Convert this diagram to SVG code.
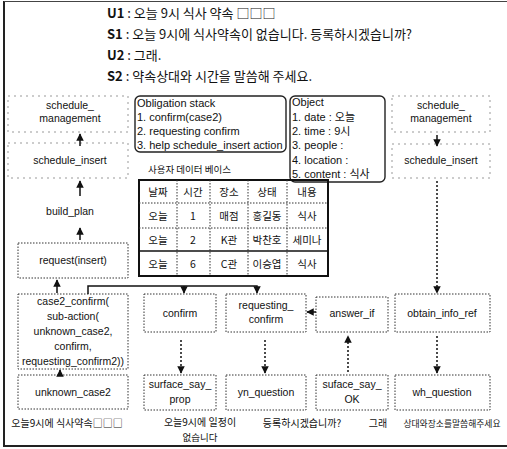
<svg xmlns="http://www.w3.org/2000/svg" width="507" height="449" viewBox="0 0 507 449">
<defs>
<style>
text{font-family:"Liberation Sans","Noto Sans CJK KR",sans-serif;font-size:10.5px;fill:#111}
.k{font-family:"Noto Sans CJK KR","Liberation Sans",sans-serif}
.dl{font-size:13px}
.b{font-weight:bold}
.lb{font-size:11px}
.u{font-size:10px}
.m{text-anchor:middle}
.lite{fill:none;stroke:#999;stroke-width:1;stroke-dasharray:2 4}
.dot{fill:none;stroke:#333;stroke-width:1;stroke-dasharray:1.5 1.5}
.rnd{fill:none;stroke:#222;stroke-width:1.4}
.sl{fill:none;stroke:#111;stroke-width:1.5}
.dv{fill:none;stroke:#111;stroke-width:1.5;stroke-dasharray:2 2}
.tb{fill:none;stroke:#111;stroke-width:2}
.tg{fill:none;stroke:#333;stroke-width:1;stroke-dasharray:1.5 1.5}
</style>
<marker id="ah" viewBox="0 0 10 10" refX="9" refY="5" markerWidth="5" markerHeight="5" orient="auto">
<path d="M0,0 L10,5 L0,10 z" fill="#111"/>
</marker>
</defs>
<rect width="507" height="449" fill="#fff"/>
<g id="frame">
<line x1="4" y1="1" x2="4" y2="447" stroke="#222" stroke-width="2"/>
<line x1="4" y1="1.5" x2="507" y2="1.5" stroke="#444" stroke-width="1.2"/>
<line x1="4" y1="446" x2="507" y2="446" stroke="#222" stroke-width="2"/>
</g>
<g id="dialogue">
<text class="k dl" x="107" y="18"><tspan class="b">U1</tspan> : 오늘 9시 식사 약속 □□□</text>
<text class="k dl" x="107" y="39"><tspan class="b">S1</tspan> : 오늘 9시에 식사약속이 없습니다. 등록하시겠습니까?</text>
<text class="k dl" x="107" y="60"><tspan class="b">U2</tspan> : 그래.</text>
<text class="k dl" x="107" y="81"><tspan class="b">S2</tspan> : 약속상대와 시간을 말씀해 주세요.</text>
</g>
<g id="schedule_management_l"><rect class="lite" x="8" y="96" width="120" height="36"/><text class="m" x="70" y="109">schedule_</text><text class="m" x="70" y="122">management</text></g>
<g id="schedule_insert_l"><rect class="lite" x="8" y="143" width="120" height="35"/><text class="m" x="70" y="164">schedule_insert</text></g>
<g id="build_plan"><text class="m" x="70" y="215">build_plan</text></g>
<g id="request_insert"><rect class="dot" x="18" y="243" width="110" height="35"/><text class="m" x="73" y="264">request(insert)</text></g>
<g id="case2_confirm"><rect class="dot" x="18" y="294" width="110" height="75"/>
<text class="m" x="73" y="305">case2_confirm(</text><text class="m" x="73" y="320">sub-action(</text><text class="m" x="73" y="335">unknown_case2,</text><text class="m" x="73" y="350">confirm,</text><text class="m" x="73" y="365">requesting_confirm2))</text></g>
<g id="unknown_case2"><rect class="dot" x="18" y="375" width="110" height="34"/><text class="m" x="73" y="396">unknown_case2</text></g>
<g id="obligation"><rect class="rnd" x="135" y="96" width="151" height="56" rx="5"/>
<text class="lb" x="137" y="107">Obligation stack</text><text class="lb" x="137" y="121">1. confirm(case2)</text><text class="lb" x="137" y="135">2. requesting confirm</text><text class="lb" x="137" y="149">3. help schedule_insert action</text></g>
<g id="object"><rect class="rnd" x="290" y="96" width="95" height="86" rx="5"/>
<text class="lb" x="292" y="106">Object</text><text class="lb" x="292" y="121">1. date : 오늘</text><text class="lb" x="292" y="135">2. time : 9시</text><text class="lb" x="292" y="149">3. people :</text><text class="lb" x="292" y="164">4. location :</text><text class="lb" x="292" y="178">5. content : 식사</text></g>
<g id="schedule_management_r"><rect class="lite" x="392" y="96" width="98" height="36"/><text class="m" x="441" y="109">schedule_</text><text class="m" x="441" y="122">management</text></g>
<g id="schedule_insert_r"><rect class="lite" x="392" y="144" width="98" height="34"/><text class="m" x="441" y="164">schedule_insert</text></g>
<g id="database">
<text class="k" x="148" y="173" style="font-size:9.5px">사용자 데이터 베이스</text>
<rect class="tb" x="139" y="180" width="189" height="96"/>
<g class="tg"><line x1="139" y1="203" x2="328" y2="203"/><line x1="139" y1="228" x2="328" y2="228"/><line x1="177" y1="180" x2="177" y2="276"/><line x1="210" y1="180" x2="210" y2="276"/><line x1="248" y1="180" x2="248" y2="276"/><line x1="287" y1="180" x2="287" y2="276"/></g>
<line x1="139" y1="251" x2="328" y2="251" stroke="#111" stroke-width="1.6"/>
<g>
<text class="m k" x="158" y="196">날짜</text><text class="m k" x="193" y="196">시간</text><text class="m k" x="229" y="196">장소</text><text class="m k" x="267" y="196">상태</text><text class="m k" x="307" y="196">내용</text>
<text class="m k" x="158" y="220">오늘</text><text class="m k" x="193" y="220">1</text><text class="m k" x="229" y="220">매점</text><text class="m k" x="267" y="220">홍길동</text><text class="m k" x="307" y="220">식사</text>
<text class="m k" x="158" y="244">오늘</text><text class="m k" x="193" y="244">2</text><text class="m k" x="229" y="244">K관</text><text class="m k" x="267" y="244">박찬호</text><text class="m k" x="307" y="244">세미나</text>
<text class="m k" x="158" y="268">오늘</text><text class="m k" x="193" y="268">6</text><text class="m k" x="229" y="268">C관</text><text class="m k" x="267" y="268">이승엽</text><text class="m k" x="307" y="268">식사</text>
</g>
</g>
<g id="confirm"><rect class="dot" x="144" y="294" width="72" height="38"/><text class="m" x="180" y="317">confirm</text></g>
<g id="surface_say_prop"><rect class="dot" x="144" y="375" width="72" height="35"/><text class="m" x="180" y="388">surface_say_</text><text class="m" x="180" y="403">prop</text></g>
<g id="requesting_confirm"><rect class="dot" x="226" y="294" width="80" height="38"/><text class="m" x="266" y="309">requesting_</text><text class="m" x="266" y="323">confirm</text></g>
<g id="yn_question"><rect class="dot" x="226" y="375" width="80" height="35"/><text class="m" x="266" y="396">yn_question</text></g>
<g id="answer_if"><rect class="dot" x="316" y="297" width="72" height="35"/><text class="m" x="352" y="317">answer_if</text></g>
<g id="suface_say_OK"><rect class="dot" x="316" y="375" width="72" height="35"/><text class="m" x="352" y="388">suface_say_</text><text class="m" x="352" y="403">OK</text></g>
<g id="obtain_info_ref"><rect class="dot" x="395" y="294" width="95" height="38"/><text class="m" x="442" y="317">obtain_info_ref</text></g>
<g id="wh_question"><rect class="dot" x="395" y="375" width="95" height="35"/><text class="m" x="442" y="396">wh_question</text></g>
<g id="utterances">
<text class="m k u" x="67" y="427">오늘9시에 식사약속□□□</text>
<text class="m k u" x="200" y="426">오늘9시에 일정이</text>
<text class="m k u" x="200" y="441" style="font-size:9.5px">없습니다</text>
<text class="m k u" x="302" y="427">등록하시겠습니까?</text>
<text class="m k u" x="378" y="427">그래</text>
<text class="m k u" x="452" y="427" style="font-size:8.8px">상대와장소를말씀해주세요</text>
</g>
<g id="connectors">
<line class="sl" x1="80" y1="146" x2="80" y2="134" marker-end="url(#ah)"/>
<line class="sl" x1="80" y1="196" x2="80" y2="181" marker-end="url(#ah)"/>
<line class="sl" x1="80" y1="240" x2="80" y2="228" marker-end="url(#ah)"/>
<line class="sl" x1="57" y1="293" x2="57" y2="280" marker-end="url(#ah)"/>
<polyline class="sl" points="88,294 88,286 257,286 257,293" marker-end="url(#ah)"/>
<line class="sl" x1="184" y1="286" x2="184" y2="293" marker-end="url(#ah)"/>
<line class="sl" x1="60" y1="375" x2="60" y2="370" marker-end="url(#ah)"/>
<line class="sl" x1="316" y1="312" x2="307" y2="312" marker-end="url(#ah)"/>
<line class="dv" x1="181" y1="340" x2="181" y2="373" marker-end="url(#ah)"/>
<line class="dv" x1="265" y1="340" x2="265" y2="373" marker-end="url(#ah)"/>
<line class="dv" x1="348" y1="372" x2="348" y2="336" marker-end="url(#ah)"/>
<line class="dv" x1="437" y1="336" x2="437" y2="373" marker-end="url(#ah)"/>
<line class="sl" x1="437" y1="135" x2="437" y2="146" marker-end="url(#ah)"/>
<line class="dv" x1="437" y1="181" x2="437" y2="293" marker-end="url(#ah)"/>
</g>
</svg>
